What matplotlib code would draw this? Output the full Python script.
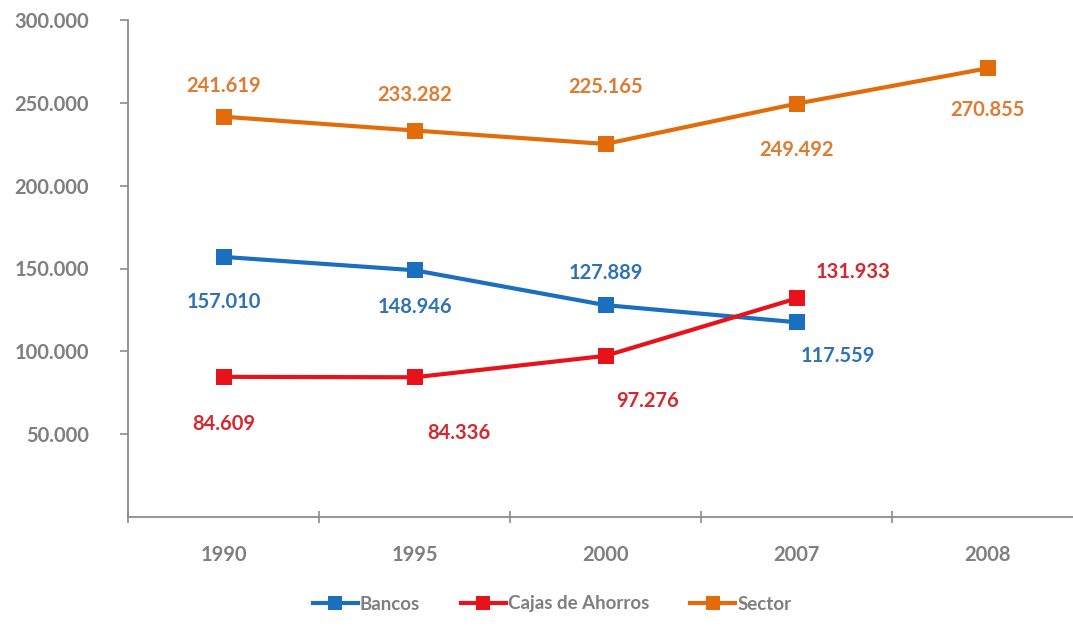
import matplotlib
matplotlib.use("Agg")
import matplotlib.pyplot as plt
from matplotlib.ticker import FuncFormatter

plt.rcParams['font.family'] = ['Lato', 'DejaVu Sans']

years = ["1990", "1995", "2000", "2007", "2008"]
bancos = [157010, 148946, 127889, 117559, None]
cajas = [84609, 84336, 97276, 131933, None]
sector = [241619, 233282, 225165, 249492, 270855]

c_bancos = "#1a6fbf"
c_cajas = "#e8121b"
c_sector = "#e36c0a"
t_bancos = "#2f72b5"
t_cajas = "#d9262e"
t_sector = "#e07a30"
grey = "#7f7f7f"

fig = plt.figure(figsize=(10.73, 6.30), dpi=100)
ax = fig.add_axes([128 / 1073, 1 - 517 / 630, 955 / 1073, 497 / 630])

x = list(range(len(years)))


def plot_series(vals, color, label):
    xs = [i for i, v in zip(x, vals) if v is not None]
    ys = [v for v in vals if v is not None]
    ax.plot(xs, ys, color=color, lw=3.0, marker='s', markersize=11.5,
            markeredgewidth=0, label=label, solid_joinstyle='round')
    return xs, ys


plot_series(bancos, c_bancos, "Bancos")
plot_series(cajas, c_cajas, "Cajas de Ahorros")
plot_series(sector, c_sector, "Sector")

# label offsets in pixels (dx, dy)
off_sector = [(0, 31), (0, 36), (0, 57), (0, -46), (0, -42)]
off_bancos = [(0, -45), (0, -37), (0, 32), (41, -34)]
off_cajas = [(0, -47), (44, -56), (42, -45), (57, 26)]


def fmt(v):
    return f"{v:,}".replace(",", ".")


def label_series(vals, offs, color):
    for i, (v, o) in enumerate(zip(vals, offs)):
        if v is None:
            continue
        ax.annotate(fmt(v), (i, v), xytext=o, textcoords='offset pixels',
                    ha='center', va='center', fontsize=14.5,
                    fontweight='bold', color=color)


label_series(sector, off_sector, t_sector)
label_series(bancos, off_bancos, t_bancos)
label_series(cajas, off_cajas, t_cajas)

ax.set_xlim(-0.5, len(years) - 0.5)
ax.set_ylim(0, 300000)
ax.set_yticks([50000, 100000, 150000, 200000, 250000, 300000])
ax.yaxis.set_major_formatter(FuncFormatter(lambda v, p: fmt(int(v))))
ax.set_xticks(x)
ax.set_xticklabels(years)
ax.set_xticks([i - 0.5 for i in range(len(years) + 1)], minor=True)

for s in ['top', 'right']:
    ax.spines[s].set_visible(False)
for s in ['left', 'bottom']:
    ax.spines[s].set_color("#8c8c8c")
    ax.spines[s].set_linewidth(1.3)

ax.tick_params(axis='y', direction='out', length=6, width=1.2, color="#8c8c8c",
               labelsize=14.5, labelcolor=grey, pad=22)
for t in ax.get_yticklabels():
    t.set_fontweight('bold')
ax.tick_params(axis='x', which='major', length=0, labelsize=14.5,
               labelcolor=grey, pad=20)
ax.tick_params(axis='x', which='minor', direction='inout', length=8, width=1.2,
               color="#8c8c8c")
for t in ax.get_xticklabels():
    t.set_fontweight('bold')

leg = fig.legend(loc='center', bbox_to_anchor=(552 / 1073, 1 - 604 / 630),
                 ncol=3, frameon=False, fontsize=13.5, handlelength=2.4,
                 columnspacing=2.2, handletextpad=0.1, markerscale=0.9)
for t in leg.get_texts():
    t.set_color(grey)
    t.set_fontweight('bold')

fig.savefig("out.png", dpi=100)
